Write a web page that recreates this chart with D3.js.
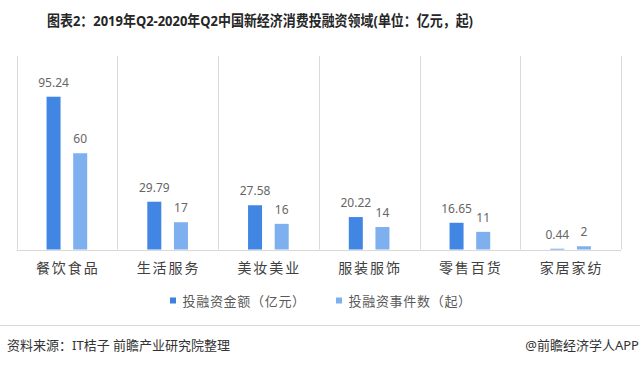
<!DOCTYPE html>
<html>
<head>
<meta charset="utf-8">
<script src="https://cdn.jsdelivr.net/npm/d3@7"></script>
<style>
  html, body { margin: 0; padding: 0; background: #fff; }
  svg { display: block; }
  text { font-family: "Noto Sans", "Noto Sans CJK SC", sans-serif; }
</style>
</head>
<body>
<svg id="chart" width="640" height="366"></svg>
<script>
const titleText = "图表2：2019年Q2-2020年Q2中国新经济消费投融资领域(单位：亿元，起)";
const categories = ["餐饮食品", "生活服务", "美妆美业", "服装服饰", "零售百货", "家居家纺"];
const seriesNames = ["投融资金额（亿元）", "投融资事件数（起）"];
const amountValues = [95.24, 29.79, 27.58, 20.22, 16.65, 0.44];
const countValues = [60, 17, 16, 14, 11, 2];
const amountLabels = ["95.24", "29.79", "27.58", "20.22", "16.65", "0.44"];
const countLabels = ["60", "17", "16", "14", "11", "2"];
const sourceText = "资料来源：IT桔子 前瞻产业研究院整理";
const creditText = "@前瞻经济学人APP";

const colors = ["#4286e3", "#7eb0ef"];
const strokes = ["#5e9cec", "#8dbaf2"];

const svg = d3.select("#chart");

// Title
svg.append("text")
  .attr("x", 47).attr("y", 20)
  .attr("dominant-baseline", "central")
  .attr("textLength", 426)
  .attr("lengthAdjust", "spacingAndGlyphs")
  .style("font-size", "15px").style("font-weight", "bold").style("fill", "#262626")
  .text(titleText);

const x = d3.scaleBand().domain(categories).range([16.5, 621]).paddingInner(0).paddingOuter(0);
const xs = d3.scaleBand().domain(seriesNames).range([0, x.bandwidth()]).paddingInner(0.474).paddingOuter(1.128);
const y = d3.scaleLinear().domain([0, 120]).range([249.5, 57]);

// Vertical separators at category boundaries
const bounds = categories.map(c => x(c)).concat([x(categories[categories.length - 1]) + x.bandwidth()]);
svg.append("g").selectAll("line").data(bounds).join("line")
  .attr("x1", d => Math.round(d) + 0.5).attr("x2", d => Math.round(d) + 0.5)
  .attr("y1", 56).attr("y2", y(0))
  .attr("stroke", "#d9d9d9").attr("stroke-width", 1);

// Baseline
svg.append("line")
  .attr("x1", x.range()[0]).attr("x2", x.range()[1])
  .attr("y1", Math.round(y(0)) + 0.5).attr("y2", Math.round(y(0)) + 0.5)
  .attr("stroke", "#d9d9d9");

const seriesData = [
  { name: seriesNames[0], values: amountValues, labels: amountLabels, color: colors[0], stroke: strokes[0] },
  { name: seriesNames[1], values: countValues, labels: countLabels, color: colors[1], stroke: strokes[1] }
];

seriesData.forEach(s => {
  const g = svg.append("g");
  g.selectAll("rect").data(categories).join("rect")
    .attr("x", (c) => x(c) + xs(s.name))
    .attr("width", xs.bandwidth())
    .attr("y", (c, i) => y(s.values[i]))
    .attr("height", (c, i) => y(0) - y(s.values[i]))
    .attr("fill", s.color);
  g.selectAll("text").data(categories).join("text")
    .attr("x", (c) => x(c) + xs(s.name) + xs.bandwidth() / 2)
    .attr("y", (c, i) => y(s.values[i]) - 10)
    .attr("text-anchor", "middle")
    .style("font-size", "12px").style("fill", "#666666")
    .text((c, i) => s.labels[i]);
});

// Category labels
svg.append("g").selectAll("text").data(categories).join("text")
  .attr("x", c => x(c) + x.bandwidth() / 2 + 1)
  .attr("y", 267)
  .attr("text-anchor", "middle")
  .attr("dominant-baseline", "central")
  .style("font-size", "14px").style("letter-spacing", "2px").style("fill", "#404040")
  .text(c => c);

// Legend
const legendX = [170, 336];
const legend = svg.append("g");
seriesData.forEach((s, i) => {
  legend.append("rect")
    .attr("x", legendX[i]).attr("y", 297.5).attr("width", 6).attr("height", 6)
    .attr("fill", i === 0 ? "#3d80dd" : s.color);
  legend.append("text")
    .attr("x", legendX[i] + 12.5).attr("y", 301)
    .attr("dominant-baseline", "central")
    .style("font-size", "13px").style("letter-spacing", "0.7px").style("fill", "#595959")
    .text(s.name);
});

// Footer separator
svg.append("line").attr("x1", 0).attr("x2", 640).attr("y1", 325.5).attr("y2", 325.5)
  .attr("stroke", "#d9d9d9");

svg.append("text").attr("x", 7).attr("y", 345)
  .attr("dominant-baseline", "central")
  .style("font-size", "13px").style("fill", "#333333")
  .text(sourceText);

svg.append("text").attr("x", 639).attr("y", 345)
  .attr("text-anchor", "end")
  .attr("dominant-baseline", "central")
  .style("font-size", "13px").style("fill", "#333333")
  .text(creditText);
</script>
</body>
</html>
